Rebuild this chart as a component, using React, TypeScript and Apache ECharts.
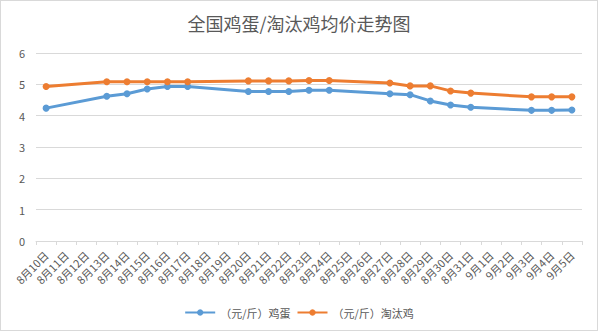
import React, { useEffect, useRef } from "react";
import * as echarts from "echarts";

const categories = [
  "8月10日", "8月11日", "8月12日", "8月13日", "8月14日", "8月15日", "8月16日",
  "8月17日", "8月18日", "8月19日", "8月20日", "8月21日", "8月22日", "8月23日",
  "8月24日", "8月25日", "8月26日", "8月27日", "8月28日", "8月29日", "8月30日",
  "8月31日", "9月1日", "9月2日", "9月3日", "9月4日", "9月5日",
];

const eggPrices: (number | null)[] = [
  4.24, null, null, 4.62, 4.70, 4.85, 4.93, 4.93, null, null, 4.77, 4.77, 4.77,
  4.81, 4.81, null, null, 4.70, 4.67, 4.47, 4.34, 4.27, null, null, 4.17, 4.17, 4.18,
];

const henPrices: (number | null)[] = [
  4.93, null, null, 5.08, 5.08, 5.08, 5.08, 5.08, null, null, 5.11, 5.11, 5.11,
  5.12, 5.12, null, null, 5.04, 4.95, 4.95, 4.79, 4.72, null, null, 4.60, 4.60, 4.60,
];

const seriesNames = ["（元/斤）鸡蛋", "（元/斤）淘汰鸡"];
const titleText = "全国鸡蛋/淘汰鸡均价走势图";

const FONT = "'Noto Sans CJK SC', 'Noto Sans', sans-serif";
const TEXT = "#595959";

export default function App() {
  const ref = useRef<HTMLDivElement>(null);
  useEffect(() => {
    document.body.style.margin = "0";
    const chart = echarts.init(ref.current!, null, { renderer: "svg" });
    chart.setOption({
      animation: false,
      backgroundColor: "#ffffff",
      textStyle: { fontFamily: FONT },
      title: {
        text: titleText,
        left: "center",
        top: 8,
        textStyle: { fontSize: 18, fontWeight: "normal", color: TEXT, fontFamily: FONT },
      },
      legend: {
        bottom: 7,
        left: "center",
        itemWidth: 30,
        itemHeight: 8,
        itemGap: 6,
        textStyle: { fontSize: 11, color: TEXT, fontFamily: FONT },
        data: seriesNames,
      },
      grid: { left: 35, right: 15, top: 52, bottom: 89 },
      xAxis: {
        type: "category",
        data: categories,
        boundaryGap: true,
        axisLine: { lineStyle: { color: "#d9d9d9", width: 1 } },
        axisTick: { show: true, length: 4, lineStyle: { color: "#d9d9d9" } },
        axisLabel: {
          rotate: 45,
          interval: 0,
          fontSize: 11,
          color: TEXT,
          margin: 12,
          fontFamily: FONT,
        },
      },
      yAxis: {
        type: "value",
        min: 0,
        max: 6,
        interval: 1,
        axisLine: { show: false },
        axisTick: { show: false },
        axisLabel: { fontSize: 11, color: TEXT, margin: 11, fontFamily: FONT },
        splitLine: { lineStyle: { color: "#d9d9d9", width: 1 } },
      },
      series: [
        {
          name: seriesNames[0],
          type: "line",
          data: eggPrices,
          connectNulls: true,
          symbol: "circle",
          symbolSize: 7,
          color: "#5B9BD5",
          lineStyle: { width: 3, color: "#5B9BD5" },
          itemStyle: { color: "#5B9BD5" },
        },
        {
          name: seriesNames[1],
          type: "line",
          data: henPrices,
          connectNulls: true,
          symbol: "circle",
          symbolSize: 7,
          color: "#ED7D31",
          lineStyle: { width: 3, color: "#ED7D31" },
          itemStyle: { color: "#ED7D31" },
        },
      ],
    });
    return () => chart.dispose();
  }, []);
  return (
    <div
      ref={ref}
      style={{
        width: 598,
        height: 331,
        border: "1px solid #d9d9d9",
        boxSizing: "border-box",
      }}
    />
  );
}
